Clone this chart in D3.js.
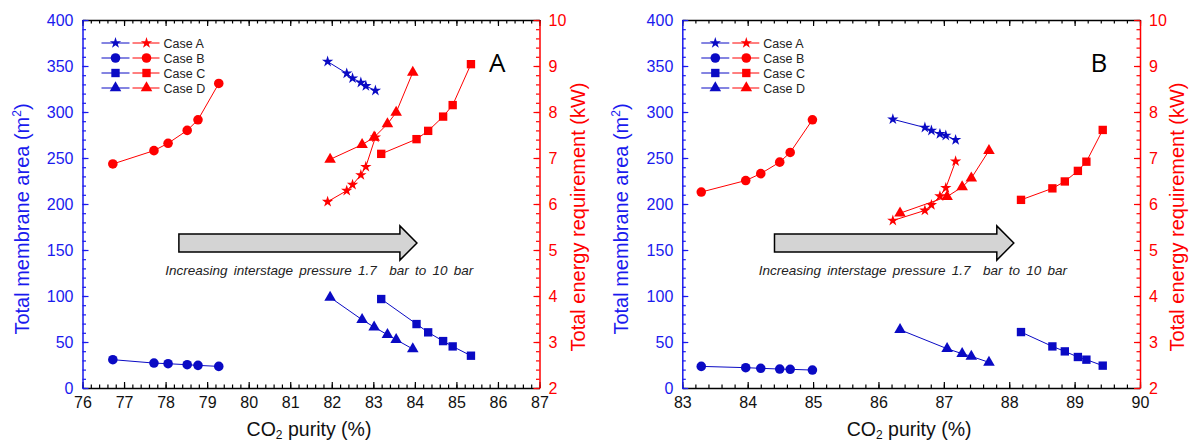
<!DOCTYPE html>
<html>
<head>
<meta charset="utf-8">
<script src="https://cdn.jsdelivr.net/npm/d3@7"></script>
<style>
  body { margin: 0; background: #fff; }
  svg { display: block; font-family: "Liberation Sans", Arial, sans-serif; }
</style>
</head>
<body>
<svg id="chart" width="1189" height="443"></svg>
<script>
// Tick labels
var xTicksA = [76, 77, 78, 79, 80, 81, 82, 83, 84, 85, 86, 87];
var xTicksB = [83, 84, 85, 86, 87, 88, 89, 90];
var areaTicks = [0, 50, 100, 150, 200, 250, 300, 350, 400];
var energyTicks = [2, 3, 4, 5, 6, 7, 8, 9, 10];
var caseNames = ["Case A", "Case B", "Case C", "Case D"];

// Panel A: CO2 purity (%), membrane area (m2), energy (kW)
var A_caseA_purity = [81.90, 82.36, 82.50, 82.70, 82.82, 83.05];
var A_caseA_area   = [354.8, 342.0, 336.7, 332.0, 328.3, 323.3];
var A_caseA_energy = [6.05, 6.29, 6.42, 6.63, 6.81, 7.45];

var A_caseB_purity = [76.73, 77.72, 78.06, 78.52, 78.78, 79.28];
var A_caseB_area   = [30.8, 27.1, 26.4, 25.3, 24.6, 23.5];
var A_caseB_energy = [6.87, 7.16, 7.32, 7.60, 7.83, 8.62];

var A_caseC_purity = [83.19, 84.04, 84.32, 84.68, 84.91, 85.35];
var A_caseC_area   = [96.7, 69.5, 60.5, 51.0, 45.2, 35.1];
var A_caseC_energy = [7.09, 7.41, 7.59, 7.90, 8.15, 9.04];

var A_caseD_purity = [81.96, 82.73, 83.02, 83.34, 83.55, 83.95];
var A_caseD_area   = [98.5, 74.2, 66.2, 57.9, 52.5, 42.4];
var A_caseD_energy = [6.97, 7.29, 7.45, 7.74, 7.99, 8.86];

// Panel B
var B_caseA_purity = [86.22, 86.71, 86.81, 86.94, 87.03, 87.18];
var B_caseA_area   = [292.1, 283.1, 279.8, 276.2, 274.4, 269.7];
var B_caseA_energy = [5.64, 5.86, 5.98, 6.17, 6.35, 6.93];

var B_caseB_purity = [83.29, 83.97, 84.20, 84.49, 84.65, 84.99];
var B_caseB_area   = [23.5, 22.1, 21.4, 20.6, 20.3, 19.5];
var B_caseB_energy = [6.26, 6.51, 6.66, 6.91, 7.12, 7.83];

var B_caseC_purity = [88.18, 88.66, 88.85, 89.05, 89.18, 89.43];
var B_caseC_area   = [60.8, 45.2, 39.8, 33.7, 30.8, 24.3];
var B_caseC_energy = [6.09, 6.34, 6.49, 6.72, 6.92, 7.61];

var B_caseD_purity = [86.33, 87.05, 87.28, 87.42, 87.69];
var B_caseD_area   = [63.3, 42.7, 37.3, 34.4, 27.9];
var B_caseD_energy = [5.80, 6.16, 6.37, 6.56, 7.16];

// Annotations (arrow in data units: x start, head base, tip; area units for y)
var A_arrow = {x0: 78.32, xHead: 83.64, xTip: 84.05, yMid: 157.6, shaft: 9.8, head: 18.6};
var B_arrow = {x0: 84.41, xHead: 87.81, xTip: 88.07, yMid: 157.6, shaft: 9.8, head: 18.6};
var arrowText = "Increasing interstage pressure 1.7  bar to 10 bar";

var BLUE = "#0a0ac4", BLUE_AX = "#1a1aee", RED = "#ff0000";

var svg = d3.select("#chart");

var symbols = [d3.symbolStar, d3.symbolCircle, d3.symbolSquare, d3.symbolTriangle];
var symSize = [40, 72, 70, 58];

function drawPanel(p) {
  var x = d3.scaleLinear().domain([p.xTicks[0], p.xTicks[p.xTicks.length-1]]).range([p.left, p.right]);
  var yA = d3.scaleLinear().domain([0, 400]).range([p.bottom, p.top]);
  var yE = d3.scaleLinear().domain([2, 10]).range([p.bottom, p.top]);
  var g = svg.append("g");

  var xMinor = d3.range(p.xTicks[0], p.xTicks[p.xTicks.length-1] + 0.001, 0.2);
  var aMinor = d3.range(0, 400.1, 10);
  var eMinor = d3.range(2, 10.01, 0.2);

  function styleAxis(sel, color, fs) {
    sel.selectAll("path").attr("stroke", color).attr("stroke-width", 1.5);
    sel.selectAll("line").attr("stroke", color).attr("stroke-width", 1.2);
    sel.selectAll("text").attr("fill", color).style("font-size", fs + "px")
      .style("font-family", "'Liberation Sans', Arial, sans-serif");
  }

  // minor ticks
  var m;
  m = g.append("g").attr("transform", "translate(0," + p.bottom + ")")
    .call(d3.axisBottom(x).tickValues(xMinor).tickSize(-3.5).tickFormat(""));
  m.select(".domain").remove(); styleAxis(m, "#000", 16);
  m = g.append("g").attr("transform", "translate(0," + p.top + ")")
    .call(d3.axisTop(x).tickValues(xMinor).tickSize(-3.5).tickFormat(""));
  m.select(".domain").remove(); styleAxis(m, "#000", 16);
  m = g.append("g").attr("transform", "translate(" + p.left + ",0)")
    .call(d3.axisLeft(yA).tickValues(aMinor).tickSize(-3.5).tickFormat(""));
  m.select(".domain").remove(); styleAxis(m, BLUE_AX, 16);
  m = g.append("g").attr("transform", "translate(" + p.right + ",0)")
    .call(d3.axisRight(yE).tickValues(eMinor).tickSize(-3.5).tickFormat(""));
  m.select(".domain").remove(); styleAxis(m, RED, 16);

  // major axes
  var ax;
  ax = g.append("g").attr("transform", "translate(0," + p.top + ")")
    .call(d3.axisTop(x).tickValues(p.xTicks).tickSize(-6).tickSizeOuter(0).tickFormat(""));
  styleAxis(ax, "#000", 16);
  ax = g.append("g").attr("transform", "translate(0," + p.bottom + ")")
    .call(d3.axisBottom(x).tickValues(p.xTicks).tickSize(-6).tickSizeOuter(0).tickPadding(9).tickFormat(d3.format("d")));
  styleAxis(ax, "#000", 16);
  ax.selectAll("text").attr("fill", "#111");
  ax = g.append("g").attr("transform", "translate(" + p.left + ",0)")
    .call(d3.axisLeft(yA).tickValues(areaTicks).tickSize(-6).tickSizeOuter(0).tickPadding(9).tickFormat(d3.format("d")));
  styleAxis(ax, BLUE_AX, 16);
  ax = g.append("g").attr("transform", "translate(" + p.right + ",0)")
    .call(d3.axisRight(yE).tickValues(energyTicks).tickSize(-6).tickSizeOuter(0).tickPadding(9).tickFormat(d3.format("d")));
  styleAxis(ax, RED, 16);

  // axis titles
  var xt = g.append("text").attr("x", (p.left + p.right) / 2 - 2).attr("y", 436)
    .attr("text-anchor", "middle").attr("fill", "#111").style("font-size", "19.5px");
  xt.append("tspan").text("CO");
  xt.append("tspan").text("2").style("font-size", "12px").attr("dy", 3);
  xt.append("tspan").text(" purity (%)").attr("dy", -3);

  var lt = g.append("text").attr("transform", "translate(" + (p.left - 54) + "," + 219 + ") rotate(-90)")
    .attr("text-anchor", "middle").attr("fill", BLUE_AX).style("font-size", "20px");
  lt.append("tspan").text("Total membrane area (m");
  lt.append("tspan").text("2").style("font-size", "12px").attr("dy", -8);
  lt.append("tspan").text(")").attr("dy", 8);

  g.append("text").attr("transform", "translate(" + (p.right + p.rTitle) + "," + 217 + ") rotate(-90)")
    .attr("text-anchor", "middle").attr("fill", RED).style("font-size", "20px")
    .text("Total energy requirement (kW)");

  // arrow
  var a = p.arrow;
  var pts = [[a.x0, a.yMid + a.shaft], [a.xHead, a.yMid + a.shaft], [a.xHead, a.yMid + a.head],
             [a.xTip, a.yMid], [a.xHead, a.yMid - a.head], [a.xHead, a.yMid - a.shaft], [a.x0, a.yMid - a.shaft]];
  g.append("path")
    .attr("d", d3.line().x(function(d){ return x(d[0]); }).y(function(d){ return yA(d[1]); })(pts) + "Z")
    .attr("fill", "#d4d4d4").attr("stroke", "#000").attr("stroke-width", 1.5);
  g.append("text").attr("x", x(p.textX)).attr("y", yA(122.8))
    .attr("fill", "#222").style("font-size", "13.5px").style("font-style", "italic")
    .style("word-spacing", "2.5px").attr("xml:space", "preserve").text(arrowText);

  // panel letter
  g.append("text").attr("x", x(p.letterX)).attr("y", yA(343.5)).attr("text-anchor", "middle")
    .attr("fill", "#000").style("font-size", "26px").style("font-family", "'Open Sans', sans-serif")
    .text(p.letter);

  // series
  p.series.forEach(function(s, i) {
    var blue = s.purity.map(function(v, k){ return [v, s.area[k]]; });
    var red = s.purity.map(function(v, k){ return [v, s.energy[k]]; });
    g.append("path").attr("d", d3.line().x(function(d){ return x(d[0]); }).y(function(d){ return yA(d[1]); })(blue))
      .attr("fill", "none").attr("stroke", BLUE).attr("stroke-width", 1);
    g.append("path").attr("d", d3.line().x(function(d){ return x(d[0]); }).y(function(d){ return yE(d[1]); })(red))
      .attr("fill", "none").attr("stroke", RED).attr("stroke-width", 1);
    var sym = d3.symbol().type(symbols[i]).size(symSize[i]);
    g.selectAll(null).data(blue).enter().append("path").attr("d", sym)
      .attr("transform", function(d){ return "translate(" + x(d[0]) + "," + yA(d[1]) + ")"; })
      .attr("fill", BLUE);
    g.selectAll(null).data(red).enter().append("path").attr("d", sym)
      .attr("transform", function(d){ return "translate(" + x(d[0]) + "," + yE(d[1]) + ")"; })
      .attr("fill", RED);
  });

  // legend
  caseNames.forEach(function(name, i) {
    var ly = p.top + 23 + i * 15;
    var lx = p.left;
    var sym = d3.symbol().type(symbols[i]).size(symSize[i]);
    g.append("line").attr("x1", lx + 19).attr("x2", lx + 47).attr("y1", ly).attr("y2", ly)
      .attr("stroke", BLUE).attr("stroke-width", 1);
    g.append("path").attr("d", sym).attr("transform", "translate(" + (lx + 33) + "," + ly + ")").attr("fill", BLUE);
    g.append("line").attr("x1", lx + 50).attr("x2", lx + 77).attr("y1", ly).attr("y2", ly)
      .attr("stroke", RED).attr("stroke-width", 1);
    g.append("path").attr("d", sym).attr("transform", "translate(" + (lx + 64) + "," + ly + ")").attr("fill", RED);
    g.append("text").attr("x", lx + 81).attr("y", ly + 4.5).attr("fill", "#222")
      .style("font-size", "12.5px").text(name);
  });
}

drawPanel({
  left: 82.5, right: 539.5, top: 20, bottom: 388, rTitle: 45,
  xTicks: xTicksA, arrow: A_arrow, textX: 77.99, letterX: 85.98, letter: "A",
  series: [
    {purity: A_caseA_purity, area: A_caseA_area, energy: A_caseA_energy},
    {purity: A_caseB_purity, area: A_caseB_area, energy: A_caseB_energy},
    {purity: A_caseC_purity, area: A_caseC_area, energy: A_caseC_energy},
    {purity: A_caseD_purity, area: A_caseD_area, energy: A_caseD_energy}
  ]
});

drawPanel({
  left: 682.3, right: 1140, top: 20, bottom: 388, rTitle: 44,
  xTicks: xTicksB, arrow: B_arrow, textX: 84.17, letterX: 89.37, letter: "B",
  series: [
    {purity: B_caseA_purity, area: B_caseA_area, energy: B_caseA_energy},
    {purity: B_caseB_purity, area: B_caseB_area, energy: B_caseB_energy},
    {purity: B_caseC_purity, area: B_caseC_area, energy: B_caseC_energy},
    {purity: B_caseD_purity, area: B_caseD_area, energy: B_caseD_energy}
  ]
});
</script>
</body>
</html>
